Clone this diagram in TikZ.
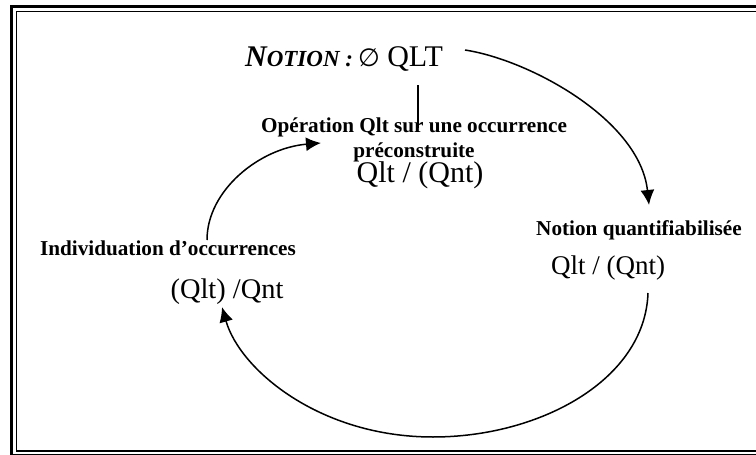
\documentclass[tikz,border=0pt]{standalone}
\usepackage{fontspec}
\setmainfont{Liberation Serif}
\newfontfamily\emptyfont{DejaVu Sans}
\usetikzlibrary{arrows.meta}
\begin{document}
\begin{tikzpicture}[x=0.5pt,y=-0.5pt,>={Latex[length=7.5pt,width=7pt]}]
\useasboundingbox (0,0) rectangle (756,455);
\draw[line width=1.25pt] (11.5,6.5) rectangle (770,455.5);
\draw[line width=0.75pt] (16.5,11.3) rectangle (765,451);

\node[inner sep=0pt, font=\fontsize{15}{18}\selectfont] (notion) at (344,59) {{\bfseries\itshape N{\fontsize{11.5}{12}\selectfont OTION :}}\,{\emptyfont\fontsize{12.5}{16}\selectfont ∅} QLT};
\node[inner sep=0pt, align=center, font=\bfseries\fontsize{10.6}{12.5}\selectfont] (op) at (414,139.5) {Opération Qlt sur une occurrence\\préconstruite};
\node[inner sep=0pt, font=\fontsize{15}{18}\selectfont] (opq) at (420,175) {Qlt / (Qnt)};
\node[inner sep=0pt, font=\bfseries\fontsize{10.6}{12.5}\selectfont] (quant) at (639,230) {Notion quantifiabilisée};
\node[inner sep=0pt, font=\fontsize{13.5}{16}\selectfont] (quantq) at (608,268) {Qlt / (Qnt)};
\node[inner sep=0pt, font=\bfseries\fontsize{10.6}{12.5}\selectfont] (indiv) at (168,248) {Individuation d’occurrences};
\node[inner sep=0pt, font=\fontsize{14.2}{17}\selectfont] (indivq) at (227,292) {(Qlt) /Qnt};

\coordinate (a1) at (465,50);
\coordinate (a2) at (649,205);
\coordinate (b1) at (207,240);
\coordinate (b2) at (321,143);
\coordinate (c1) at (648,293);
\coordinate (c2) at (222,307);
\coordinate (v1) at (418,85);
\coordinate (v2) at (418,128);

\draw[->, line width=0.75pt] (a1) .. controls (530,60) and (640,120) .. (a2);
\draw[line width=0.75pt] (v1) -- (v2);
\draw[->, line width=0.75pt] (b1) .. controls (207,190) and (260,148) .. (b2);
\draw[->, line width=0.75pt] (c1) .. controls (645,380) and (540,437) .. (433,437) .. controls (320,437) and (240,370) .. (c2);
\end{tikzpicture}
\end{document}
